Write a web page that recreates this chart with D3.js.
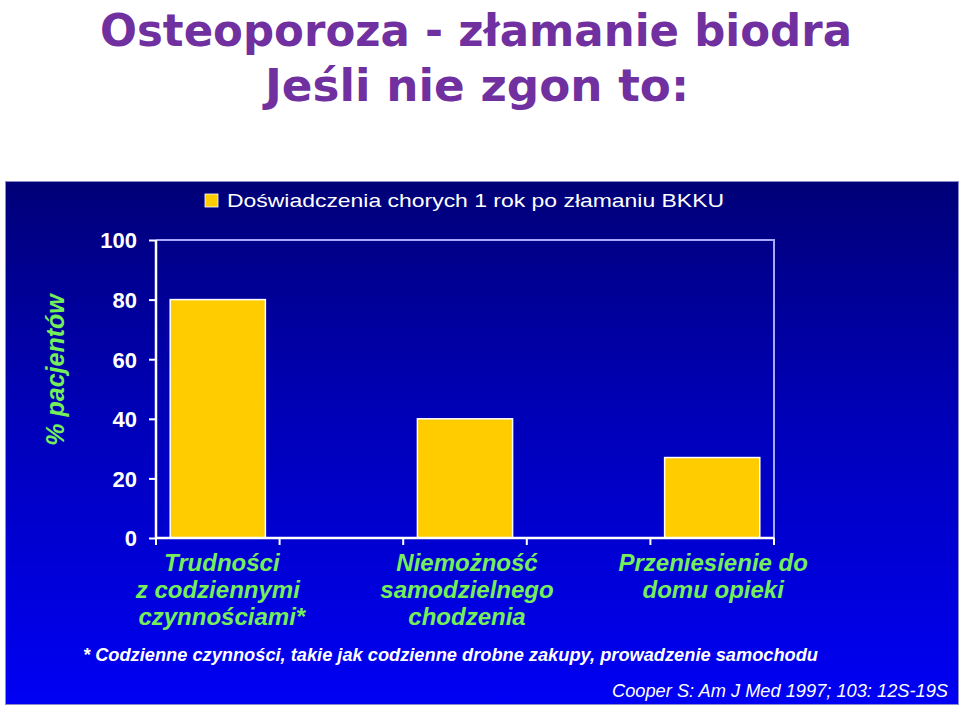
<!DOCTYPE html>
<html><head><meta charset="utf-8">
<script src="https://cdn.jsdelivr.net/npm/d3@7"></script>
<style>html,body{margin:0;padding:0;background:#fff;}svg{display:block;}</style>
</head><body>
<script>
// ---- data ----
const titleLines = ["Osteoporoza - złamanie biodra", "Jeśli nie zgon to:"];
const legendLabel = "Doświadczenia chorych 1 rok po złamaniu BKKU";
const yAxisLabel = "% pacjentów";
const categories = ["Trudności|z codziennymi|czynnościami*", "Niemożność|samodzielnego|chodzenia", "Przeniesienie do|domu opieki"];
const values = [80, 40, 27];
const yTicks = [0, 20, 40, 60, 80, 100];
const footnote = "* Codzienne czynności, takie jak codzienne drobne zakupy, prowadzenie samochodu";
const citation = "Cooper S: Am J Med 1997; 103: 12S-19S";

const W = 960, H = 708;
const svg = d3.select("body").append("svg").attr("width", W).attr("height", H);

// title
const titleFont = "'Comic Sans MS','DejaVu Sans',sans-serif";
svg.append("text").attr("x", 476).attr("y", 46).attr("text-anchor", "middle")
  .attr("font-family", titleFont).attr("font-weight", "bold").attr("font-size", 45)
  .attr("fill", "#7030a0").attr("textLength", 752).attr("lengthAdjust", "spacingAndGlyphs")
  .text(titleLines[0]);
svg.append("text").attr("x", 477).attr("y", 101).attr("text-anchor", "middle")
  .attr("font-family", titleFont).attr("font-weight", "bold").attr("font-size", 45)
  .attr("fill", "#7030a0").attr("textLength", 424).attr("lengthAdjust", "spacingAndGlyphs")
  .text(titleLines[1]);

// panel gradient
const defs = svg.append("defs");
const grad = defs.append("linearGradient").attr("id", "bg").attr("x1", 0).attr("y1", 0).attr("x2", 0).attr("y2", 1);
grad.append("stop").attr("offset", "0%").attr("stop-color", "#000078");
grad.append("stop").attr("offset", "45%").attr("stop-color", "#0000b8");
grad.append("stop").attr("offset", "100%").attr("stop-color", "#0000f4");
svg.append("rect").attr("x", 5.5).attr("y", 181.5).attr("width", 953).attr("height", 523)
  .attr("fill", "url(#bg)").attr("stroke", "#8c8cc8").attr("stroke-width", 1);

// legend
svg.append("rect").attr("x", 205).attr("y", 194).attr("width", 13).attr("height", 13)
  .attr("fill", "#ffcc00").attr("stroke", "#ffffff").attr("stroke-width", 0.8);
svg.append("text").attr("x", 227).attr("y", 207).attr("font-family", "Arial, 'Liberation Sans', sans-serif")
  .attr("font-size", 19).attr("fill", "#ffffff").attr("textLength", 497).attr("lengthAdjust", "spacingAndGlyphs")
  .text(legendLabel);

// scales
const plotL = 156, plotR = 774, plotT = 240, plotB = 538;
const slots = ["c0", "g0", "c1", "g1", "c2"];
const catSlot = ["c0", "c1", "c2"];
const x = d3.scaleBand().domain(slots).range([plotL, plotR]).paddingInner(0).paddingOuter(0);
const y = d3.scaleLinear().domain([0, 100]).range([plotB, plotT]);
const barPad = 0.23;

// frame top & right
svg.append("path").attr("d", `M${plotL},${plotT}H${plotR}V${plotB}`)
  .attr("fill", "none").attr("stroke", "#a8a8ff").attr("stroke-width", 2);

// bars
svg.selectAll("rect.bar").data(values).join("rect").attr("class", "bar")
  .attr("x", (d, i) => x(catSlot[i]) + x.bandwidth() * barPad / 2)
  .attr("width", x.bandwidth() * (1 - barPad))
  .attr("y", d => y(d)).attr("height", d => y(0) - y(d))
  .attr("fill", "#ffcc00").attr("stroke", "#ffffff").attr("stroke-width", 1.5);

// y axis
const yAxis = d3.axisLeft(y).tickValues(yTicks).tickSize(7).tickPadding(12);
const gy = svg.append("g").attr("transform", `translate(${plotL},0)`).call(yAxis);
gy.select(".domain").attr("stroke", "#fff").attr("stroke-width", 2.5).attr("d", `M0,${plotT}V${plotB}`);
gy.selectAll(".tick line").attr("stroke", "#fff").attr("stroke-width", 2);
gy.selectAll(".tick text").attr("fill", "#fff").attr("font-family", "Arial, 'Liberation Sans', sans-serif")
  .attr("font-weight", "bold").attr("font-size", 22).attr("dy", "0.36em");

// x axis line and ticks at slot boundaries
const edges = slots.map(s => x(s)).concat([plotR]);
svg.append("line").attr("x1", plotL).attr("x2", plotR).attr("y1", plotB).attr("y2", plotB)
  .attr("stroke", "#fff").attr("stroke-width", 2.5);
svg.selectAll("line.xt").data(edges).join("line").attr("class", "xt")
  .attr("x1", d => d).attr("x2", d => d).attr("y1", plotB).attr("y2", plotB + 7)
  .attr("stroke", "#fff").attr("stroke-width", 2);

// category labels
const narrow = "'Liberation Sans Narrow', 'Arial Narrow', Arial, sans-serif";
const catOffsets = [[4, 0, 4], [2, 2, 2], [1, 1]];
categories.forEach((c, i) => {
  const cx = x(catSlot[i]) + x.bandwidth() / 2;
  const lines = c.split("|");
  const t = svg.append("text").attr("text-anchor", "middle").attr("font-family", narrow)
    .attr("font-weight", "bold").attr("font-style", "italic").attr("font-size", 24).attr("fill", "#76ee5a");
  lines.forEach((ln, j) => {
    t.append("tspan").attr("x", cx + catOffsets[i][j]).attr("y", 571 + j * 27).text(ln);
  });
});

// y axis label
svg.append("text").attr("transform", "translate(64,370) rotate(-90)").attr("text-anchor", "middle")
  .attr("font-family", "Arial, 'Liberation Sans', sans-serif").attr("font-weight", "bold").attr("font-style", "italic")
  .attr("font-size", 25).attr("fill", "#76ee5a").text(yAxisLabel);

// footnote & citation
svg.append("text").attr("x", 83).attr("y", 661).attr("font-family", narrow).attr("font-weight", "bold")
  .attr("font-style", "italic").attr("font-size", 19).attr("fill", "#fff")
  .attr("textLength", 735).attr("lengthAdjust", "spacingAndGlyphs").text(footnote);
svg.append("text").attr("x", 612).attr("y", 697).attr("font-family", narrow)
  .attr("font-style", "italic").attr("font-size", 18).attr("fill", "#fff")
  .attr("textLength", 336).attr("lengthAdjust", "spacingAndGlyphs").text(citation);
</script>
</body></html>
